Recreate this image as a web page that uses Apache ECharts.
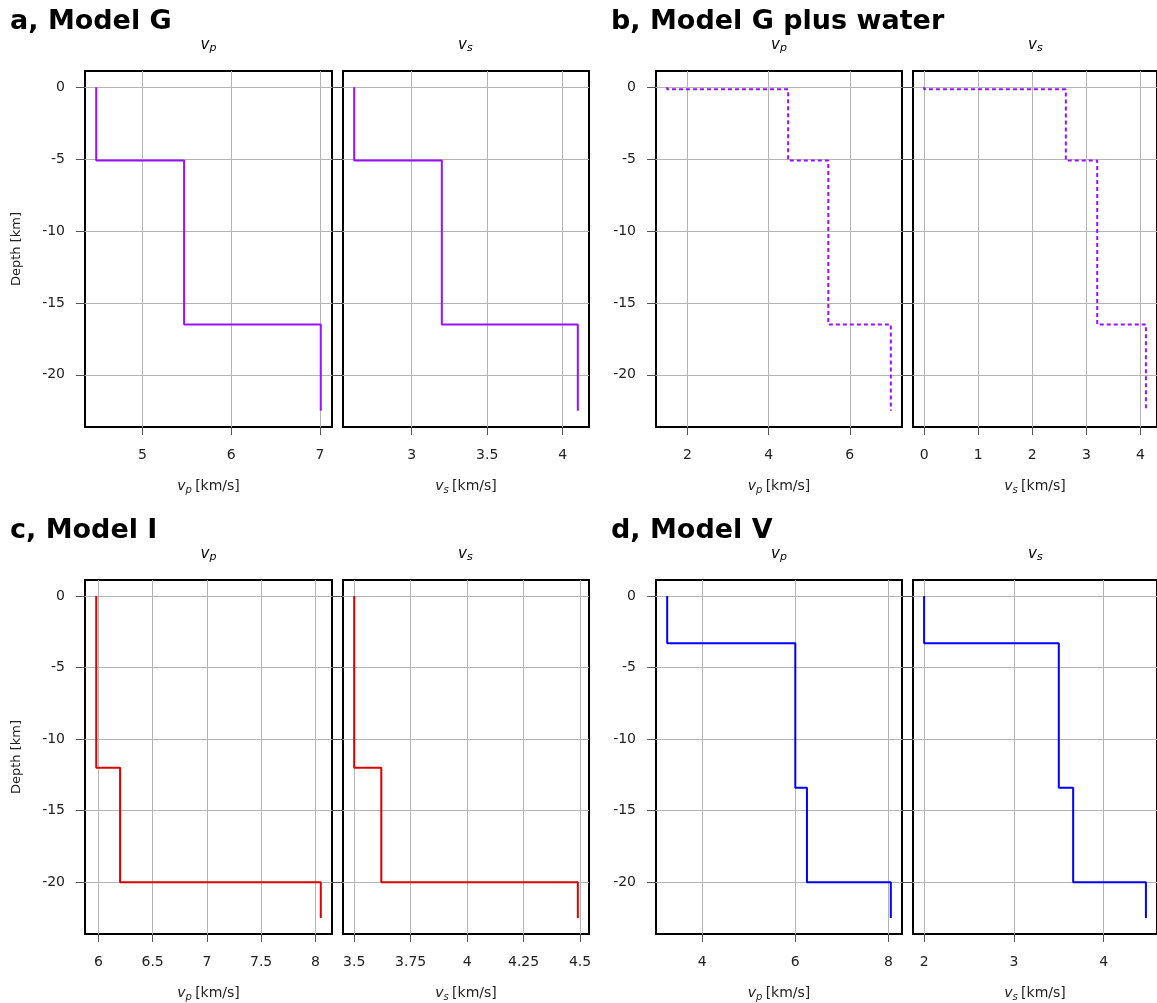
<!DOCTYPE html>
<html>
<head>
<meta charset="utf-8">
<script src="https://cdn.jsdelivr.net/npm/echarts@6/dist/echarts.min.js"></script>
<style>html,body{margin:0;padding:0;background:#fff}#c{width:1157px;height:1003px}</style>
</head>
<body>
<div id="c"></div>
<script>
// ---- data (depth in km, velocities in km/s) ----
const depthTicks = [0, -5, -10, -15, -20];

// Model G: layer top depths + bottom depth
const gDepth = [0, -5.1, -16.5, -22.5];
const gVp = [4.48, 5.47, 7.01];
const gVs = [2.62, 3.2, 4.1];

// Model G plus water
const gwDepth = [0, -0.15, -5.1, -16.5, -22.5];
const gwVp = [1.5, 4.48, 5.47, 7.01];
const gwVs = [0, 2.62, 3.2, 4.1];

// Model I
const iDepth = [0, -12, -20, -22.5];
const iVp = [5.98, 6.2, 8.05];
const iVs = [3.5, 3.62, 4.49];

// Model V
const vDepth = [0, -3.3, -13.4, -20, -22.5];
const vVp = [3.25, 6.0, 6.25, 8.05];
const vVs = [2.0, 3.5, 3.66, 4.47];

// tick labels
const aVpTicks = [5, 6, 7];
const aVsTicks = [3, 3.5, 4];
const bVpTicks = [2, 4, 6];
const bVsTicks = [0, 1, 2, 3, 4];
const cVpTicks = [6, 6.5, 7, 7.5, 8];
const cVsTicks = [3.5, 3.75, 4, 4.25, 4.5];
const dVpTicks = [4, 6, 8];
const dVsTicks = [2, 3, 4];

const panelTitles = ['a, Model G', 'b, Model G plus water', 'c, Model I', 'd, Model V'];

// ---- helpers ----
function stepPoints(depth, vel) {
  const pts = [];
  for (let i = 0; i < vel.length; i++) {
    pts.push([vel[i], depth[i]]);
    pts.push([vel[i], depth[i + 1]]);
  }
  return pts;
}
function padRange(arr) {
  const mn = Math.min.apply(null, arr), mx = Math.max.apply(null, arr);
  const r = mx - mn;
  return [mn - 0.05 * r, mx + 0.05 * r];
}

const FONT = 'DejaVu Sans';
const panels = [
  {depth: gDepth, vp: gVp, vs: gVs, vpT: aVpTicks, vsT: aVsTicks, color: '#9a10ff', dash: 'solid', top: 71, left: [85, 343], width: [247, 246], depthName: true},
  {depth: gwDepth, vp: gwVp, vs: gwVs, vpT: bVpTicks, vsT: bVsTicks, color: '#9a10ff', dash: [4, 3], top: 71, left: [656, 913], width: [246, 246], depthName: false},
  {depth: iDepth, vp: iVp, vs: iVs, vpT: cVpTicks, vsT: cVsTicks, color: '#dd0000', dash: 'solid', top: 580, left: [85, 343], width: [247, 246], depthName: true},
  {depth: vDepth, vp: vVp, vs: vVs, vpT: dVpTicks, vsT: dVsTicks, color: '#0000ff', dash: 'solid', top: 580, left: [656, 913], width: [246, 246], depthName: false}
];
const H = 356;

const grids = [], xAxes = [], yAxes = [], series = [], graphics = [];
const rich = {
  i: {fontFamily: FONT, fontStyle: 'italic', fontSize: 14, color: '#222', lineHeight: 18, verticalAlign: 'middle'},
  sub: {fontFamily: FONT, fontStyle: 'italic', fontSize: 10, color: '#222', lineHeight: 18, verticalAlign: 'bottom', padding: [6, 0, 0, 0]},
  n: {fontFamily: FONT, fontSize: 14, color: '#222', lineHeight: 18, verticalAlign: 'middle'}
};
const richT = {
  i: {fontFamily: FONT, fontStyle: 'italic', fontSize: 15, color: '#222', lineHeight: 18},
  sub: {fontFamily: FONT, fontStyle: 'italic', fontSize: 11, color: '#222', lineHeight: 18, padding: [6, 0, 0, 0]}
};

panels.forEach((p, pi) => {
  ['p', 's'].forEach((q, k) => {
    const gi = grids.length;
    const vel = q === 'p' ? p.vp : p.vs;
    const ticks = q === 'p' ? p.vpT : p.vsT;
    const rng = padRange(vel);
    const dr = padRange(p.depth);
    grids.push({left: p.left[k], top: p.top, width: p.width[k], height: H, show: true,
      borderColor: '#000', borderWidth: 2, backgroundColor: '#fff', containLabel: false});
    xAxes.push({
      type: 'value', gridIndex: gi, min: rng[0], max: rng[1], position: 'bottom',
      axisLine: {show: false, onZero: false},
      axisTick: {show: true, customValues: ticks, length: 8, lineStyle: {color: '#555'}},
      axisLabel: {show: true, customValues: ticks, margin: 21, fontFamily: FONT, fontSize: 14, color: '#222'},
      splitLine: {show: true, lineStyle: {color: '#b4b4b4', width: 1}},
      name: '{i|v}{sub|' + q + '} {n|[km/s]}', nameLocation: 'middle', nameGap: 50,
      nameTextStyle: {rich: rich}
    });
    yAxes.push({
      type: 'value', gridIndex: gi, min: dr[0], max: dr[1], position: 'left',
      axisLine: {show: false, onZero: false},
      axisTick: {show: true, customValues: depthTicks, length: k === 0 ? 9 : 11, lineStyle: {color: '#555'}},
      axisLabel: {show: k === 0, customValues: depthTicks, margin: 20, fontFamily: FONT, fontSize: 14, color: '#222'},
      splitLine: {show: true, lineStyle: {color: '#b4b4b4', width: 1}},
      name: (k === 0 && p.depthName) ? 'Depth [km]' : '', nameLocation: 'middle', nameGap: 62,
      nameTextStyle: {fontFamily: FONT, fontSize: 13, color: '#222'}
    });
    series.push({
      type: 'line', xAxisIndex: gi, yAxisIndex: gi, data: stepPoints(p.depth, vel),
      showSymbol: false, symbol: 'none', animation: false, clip: true,
      lineStyle: {color: p.color, width: 2, type: p.dash}
    });
    graphics.push({
      type: 'text', left: p.left[k] + p.width[k] / 2 - 8, top: p.top - 34,
      style: {text: '{i|v}{sub|' + q + '}', rich: richT}
    });
  });
  graphics.push({
    type: 'text', left: pi % 2 === 0 ? 10 : 611, top: p.top - 63,
    style: {text: panelTitles[pi], fontFamily: FONT, fontWeight: 'bold', fontSize: 27, fill: '#000'}
  });
});

const chart = echarts.init(document.getElementById('c'), null, {renderer: 'canvas'});
chart.setOption({
  animation: false,
  backgroundColor: '#fff',
  grid: grids, xAxis: xAxes, yAxis: yAxes, series: series, graphic: graphics
});
</script>
</body>
</html>
